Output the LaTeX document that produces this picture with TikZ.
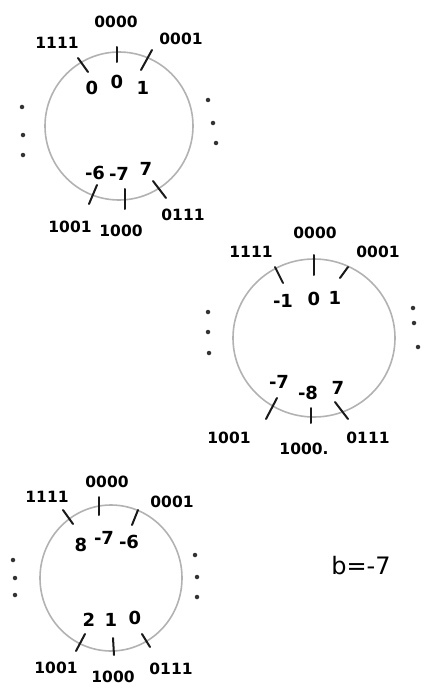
\documentclass[tikz,border=0pt]{standalone}
\usepackage{fontspec}
\setmainfont{DejaVu Sans}
\begin{document}
\begin{tikzpicture}[x=1pt,y=-1pt,
  ring/.style={draw=black!30, line width=1.6pt},
  tick/.style={draw=black!90, line width=2pt, line cap=round},
  code/.style={inner sep=0pt, font=\fontsize{15.5}{15.5}\selectfont\bfseries},
  val/.style={inner sep=0pt, font=\fontsize{18}{18}\selectfont\bfseries},
  dot/.style={circle, fill=black!80, inner sep=0pt, minimum size=4.5pt}]
\useasboundingbox (0,0) rectangle (425,698);

% ---- ones' complement ring ----
\draw[ring] (119,126) ellipse [x radius=74, y radius=74];
\draw[tick] (78,58) -- (88,72);
\draw[tick] (117,47) -- (117,62);
\draw[tick] (152,50) -- (141,70);
\draw[tick] (97,185) -- (89,204);
\draw[tick] (125,189) -- (125,209);
\draw[tick] (153,181) -- (166,198);
\node[code] (a1111) at (57,43) {1111};
\node[code] (a0000) at (116,22) {0000};
\node[code] (a0001) at (181,39) {0001};
\node[code] (a1001) at (70,227) {1001};
\node[code] (a1000) at (121,231) {1000};
\node[code] (a0111) at (183,215) {0111};
\node[val] (av1111) at (92,88) {0};
\node[val] (av0000) at (117,82) {0};
\node[val] (av0001) at (143,88) {1};
\node[val] (av1001) at (95,173) {-6};
\node[val] (av1000) at (119,174) {-7};
\node[val] (av0111) at (146,169) {7};
\node[dot] (al1) at (22,107) {};
\node[dot] (al2) at (23,135) {};
\node[dot] (al3) at (23,155) {};
\node[dot] (ar1) at (208,100) {};
\node[dot] (ar2) at (213,123) {};
\node[dot] (ar3) at (216,143) {};

% ---- two's complement ring ----
\draw[ring] (314,338) ellipse [x radius=81, y radius=79];
\draw[tick] (275,267) -- (283,283);
\draw[tick] (314,255) -- (314,275);
\draw[tick] (348,267) -- (340,278);
\draw[tick] (277,398) -- (266,419);
\draw[tick] (311,408) -- (311,423);
\draw[tick] (335,402) -- (348,419);
\node[code] (b1111) at (251,252) {1111};
\node[code] (b0000) at (315,233) {0000};
\node[code] (b0001) at (378,252) {0001};
\node[code] (b1001) at (229,438) {1001};
\node[code] (b1000) at (304,449) {1000.};
\node[code] (b0111) at (368,438) {0111};
\node[val] (bv1111) at (283,301) {-1};
\node[val] (bv0000) at (314,299) {0};
\node[val] (bv0001) at (335,298) {1};
\node[val] (bv1001) at (279,382) {-7};
\node[val] (bv1000) at (308,393) {-8};
\node[val] (bv0111) at (338,388) {7};
\node[dot] (bl1) at (208,312) {};
\node[dot] (bl2) at (208,332) {};
\node[dot] (bl3) at (209,353) {};
\node[dot] (br1) at (413,308) {};
\node[dot] (br2) at (414,323) {};
\node[dot] (br3) at (418,347) {};

% ---- biased ring, b = -7 ----
\draw[ring] (111,578) ellipse [x radius=71, y radius=73];
\draw[tick] (63,510) -- (73,524);
\draw[tick] (99,497) -- (99,515);
\draw[tick] (138,510) -- (132,525);
\draw[tick] (85,634) -- (76,651);
\draw[tick] (113,638) -- (114,655);
\draw[tick] (142,634) -- (150,647);
\node[code] (c1111) at (47,497) {1111};
\node[code] (c0000) at (107,482) {0000};
\node[code] (c0001) at (172,502) {0001};
\node[code] (c1001) at (56,668) {1001};
\node[code] (c1000) at (113,677) {1000};
\node[code] (c0111) at (171,669) {0111};
\node[val] (cv1111) at (81,545) {8};
\node[val] (cv0000) at (104,538) {-7};
\node[val] (cv0001) at (129,542) {-6};
\node[val] (cv1001) at (89,620) {2};
\node[val] (cv1000) at (111,620) {1};
\node[val] (cv0111) at (135,618) {0};
\node[dot] (cl1) at (13,560) {};
\node[dot] (cl2) at (15,578) {};
\node[dot] (cl3) at (15,595) {};
\node[dot] (cr1) at (195,555) {};
\node[dot] (cr2) at (197,577) {};
\node[dot] (cr3) at (197,597) {};

\node[inner sep=0pt, font=\fontsize{24}{24}\selectfont] (bias) at (361,566) {b=-7};
\end{tikzpicture}
\end{document}
